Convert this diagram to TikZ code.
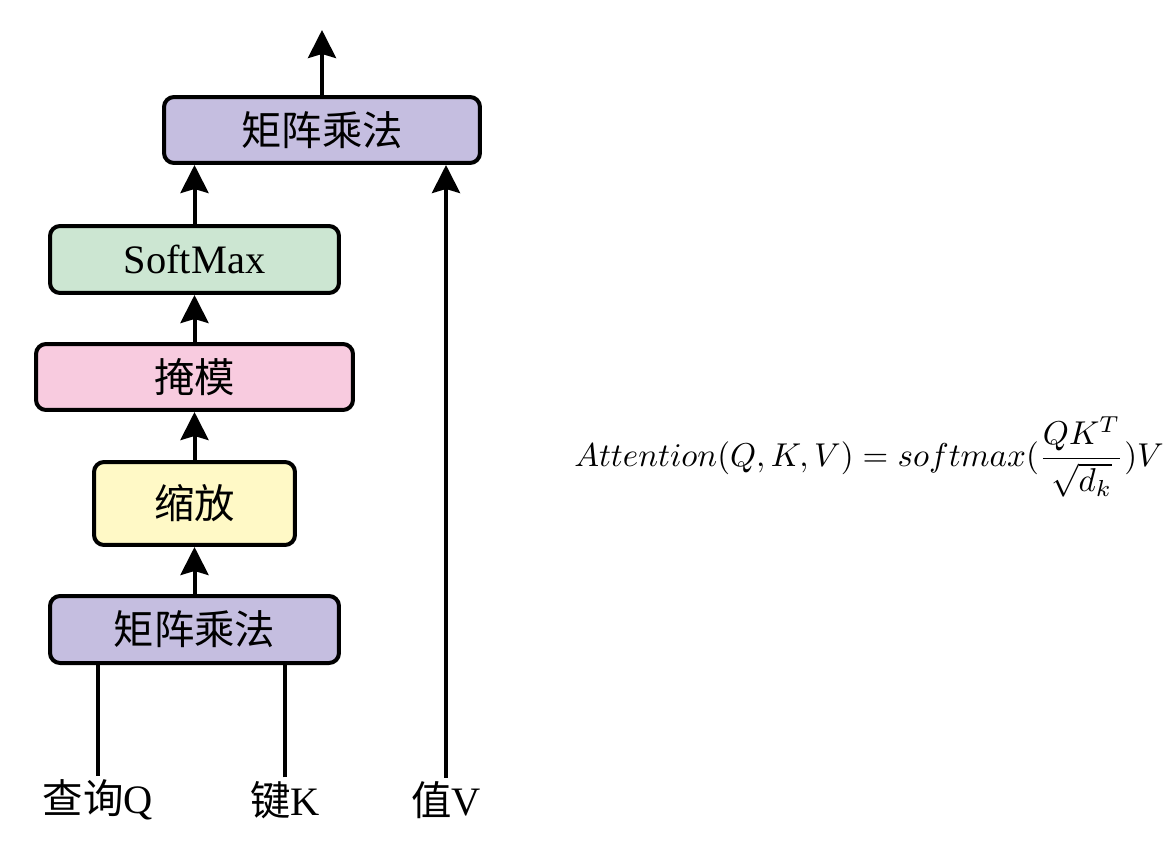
\documentclass[tikz,border=0pt]{standalone}
\usepackage[no-math]{fontspec}
\setmainfont{Liberation Serif}
\newfontfamily\cjk{Noto Sans CJK SC}
\usetikzlibrary{arrows.meta}
\definecolor{mmfill}{RGB}{197,190,224}
\definecolor{smfill}{RGB}{204,230,210}
\definecolor{maskfill}{RGB}{248,203,223}
\definecolor{scalefill}{RGB}{255,249,198}
\begin{document}
\begin{tikzpicture}[
        x=0.02cm, y=-0.02cm,
        font=\fontsize{23}{28}\selectfont,
        block/.style={
            draw,
            line width=0.08cm,
            rounded corners=0.2cm,
            align=center,
            inner sep=0pt,
            minimum height=1.32cm
        },
        label/.style={
            inner sep=2pt,
            anchor=center
        },
        flow/.style={
            line width=0.08cm,
            -{Stealth[length=5.6mm,width=5.6mm,inset=0.8mm]}
        },
        wire/.style={
            line width=0.08cm
        }
    ]
    \useasboundingbox (0,0) rectangle (1170,845);
    % Bloecke
    \node[block, fill=mmfill, minimum width=5.78cm, minimum height=1.34cm] (mmqk) at (194.5,629.5) {{\cjk 矩阵乘法}};
    \node[block, fill=scalefill, minimum width=4.02cm, minimum height=1.66cm] (scale) at (194.5,503.5) {{\cjk 缩放}};
    \node[block, fill=maskfill, minimum width=6.34cm] (mask) at (194.5,377) {{\cjk 掩模}};
    \node[block, fill=smfill, minimum width=5.78cm, minimum height=1.34cm] (softmax) at (194.5,259.5) {SoftMax};
    \node[block, fill=mmfill, minimum width=6.32cm] (mmv) at (322,130) {{\cjk 矩阵乘法}};
    \coordinate (out) at (322,30);
    % Eingaenge
    \node[label] (query) at (98,800) {{\cjk 查询}Q};
    \node[label] (key) at (285,800) {{\cjk 键}K};
    \node[label] (value) at (446,800) {{\cjk 值}V};
    % Verbindungen
    \draw[wire] (query.north) -- (query.north |- mmqk.south);
    \draw[wire] (key.north) -- (key.north |- mmqk.south);
    \draw[flow] (value.north) -- (value.north |- mmv.south);
    \draw[flow] (mmqk) -- (scale);
    \draw[flow] (scale) -- (mask);
    \draw[flow] (mask) -- (softmax);
    \draw[flow] (softmax.north) -- (softmax.north |- mmv.south);
    \draw[flow] (mmv) -- (out);
    % Formel
    \node[font=\normalsize] (formula) at (869,457)
        {\scalebox{1.88}{$\displaystyle Attention(Q,K,V)=softmax(\frac{QK^T}{\sqrt{d_k}})V$}};
\end{tikzpicture}
\end{document}
